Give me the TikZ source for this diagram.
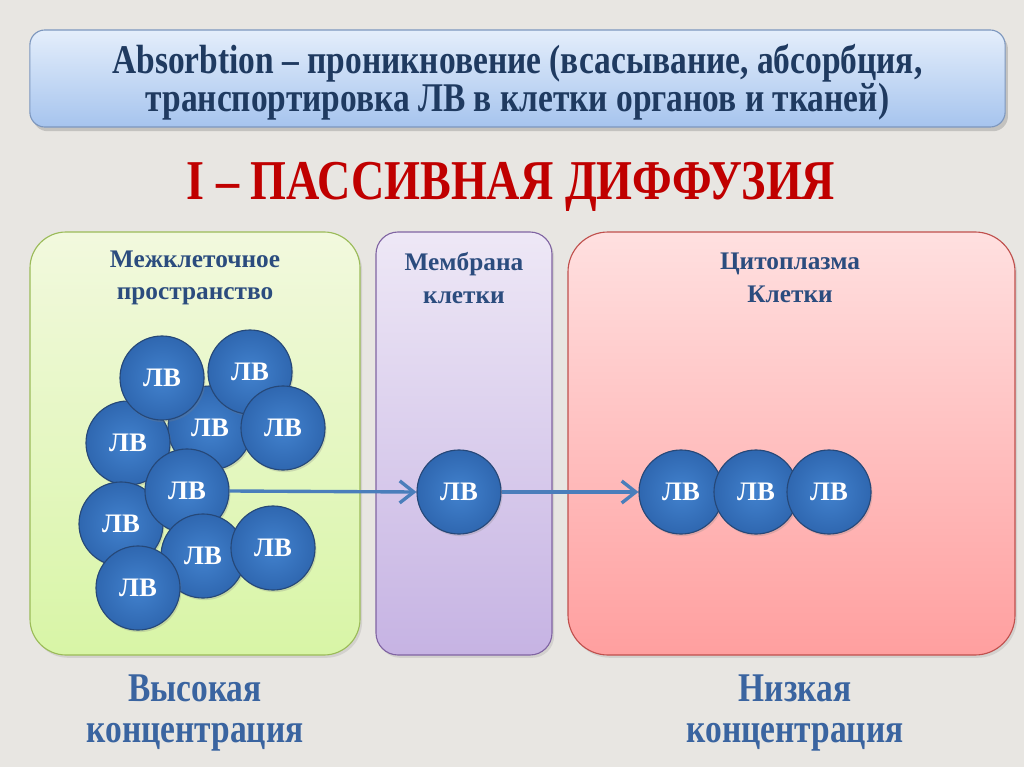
\documentclass[tikz,border=0pt]{standalone}
\usepackage{fontspec}
\setmainfont{Liberation Serif}
\newfontfamily\narrowfont[FakeStretch=0.82,Ligatures=TeX]{Liberation Serif}
\usetikzlibrary{arrows.meta,shadows}
\definecolor{paper}{HTML}{E8E6E2}
\definecolor{navy}{HTML}{1F3A60}
\definecolor{deepred}{HTML}{C00000}
\definecolor{headblue}{HTML}{2B4C7E}
\definecolor{lowblue}{HTML}{3A64A0}
\definecolor{bannertop}{HTML}{E4EEFB}
\definecolor{bannerbottom}{HTML}{A6C4EE}
\definecolor{banneredge}{HTML}{7D97BE}
\definecolor{greentop}{HTML}{F2F9DE}
\definecolor{greenbottom}{HTML}{D8F5A6}
\definecolor{greenedge}{HTML}{9BBB59}
\definecolor{violettop}{HTML}{EEE8F6}
\definecolor{violetbottom}{HTML}{C6B3E3}
\definecolor{violetedge}{HTML}{8064A2}
\definecolor{pinktop}{HTML}{FFE0E0}
\definecolor{pinkbottom}{HTML}{FF9F9F}
\definecolor{pinkedge}{HTML}{C0504D}
\definecolor{lvmid}{HTML}{4282CE}
\definecolor{lvrim}{HTML}{2F67B0}
\definecolor{lvedge}{HTML}{264878}
\definecolor{flowblue}{HTML}{4A7EBB}
\tikzset{
  banner/.style={
    draw=banneredge, line width=0.8pt,
    rounded corners=0.375cm,
    top color=bannertop, bottom color=bannerbottom,
    minimum width=24.375cm, minimum height=2.425cm,
    drop shadow={opacity=0.35, shadow xshift=2pt, shadow yshift=-3pt}
  },
  bannertext/.style={
    align=center, text=navy,
    font=\narrowfont\bfseries\fontsize{29}{27}\selectfont
  },
  panel/.style={
    line width=0.8pt,
    drop shadow={opacity=0.2, shadow xshift=1.5pt, shadow yshift=-2pt}
  },
  head/.style={
    text=headblue, align=center,
    font=\bfseries\fontsize{18}{23}\selectfont
  },
  conc/.style={
    text=lowblue, align=center,
    font=\narrowfont\bfseries\fontsize{29}{29}\selectfont
  },
  lv/.style={
    circle, draw=lvedge, line width=0.8pt,
    inner color=lvmid, outer color=lvrim,
    minimum size=2.1cm, inner sep=0pt,
    text=white, font=\bfseries\fontsize{19}{21}\selectfont,
    drop shadow={opacity=0.25, shadow xshift=1pt, shadow yshift=-1.5pt}
  },
  flow/.style={
    -{Straight Barb[length=3.5mm,width=5.5mm]},
    draw=flowblue,
    line width=2.4pt
  }
}

\begin{document}
\begin{tikzpicture}[x=0.025cm,y=-0.025cm]
  % Paper background
  \fill[paper] (0,0) rectangle (1024,767);
  \useasboundingbox (0,0) rectangle (1024,767);

  % Definition banner
  \node[banner] (banner) at (517.5,78.5) {};
  \node[bannertext] (definition) at (517.5,82)
    {Absorbtion -- проникновение (всасывание, абсорбция,\\
     транспортировка ЛВ в клетки органов и тканей)};

  % Heading
  \node[text=deepred, font=\narrowfont\bfseries\fontsize{40}{40}\selectfont]
    (title) at (511,187) {I -- ПАССИВНАЯ ДИФФУЗИЯ};

  % Three compartments
  \draw[panel, draw=greenedge, top color=greentop,
        bottom color=greenbottom, rounded corners=0.9cm]
    (30,232) rectangle (360,655);
  \draw[panel, draw=violetedge, top color=violettop,
        bottom color=violetbottom, rounded corners=0.55cm]
    (376,232) rectangle (552,655);
  \draw[panel, draw=pinkedge, top color=pinktop,
        bottom color=pinkbottom, rounded corners=1cm]
    (568,232) rectangle (1015,655);

  \node[head] (space) at (195,278) {Межклеточное\\пространство};
  \node[head] (membrane) at (464,278) {Мембрана\\клетки};
  \node[head] (cytoplasm) at (790,278) {Цитоплазма\\Клетки};

  % Crowded molecules outside
  \node[lv] (lv3) at (210,428) {ЛВ};
  \node[lv] (lv4) at (128,443) {ЛВ};
  \node[lv] (lv1) at (162,378) {ЛВ};
  \node[lv] (lv2) at (250,372) {ЛВ};
  \node[lv] (lv5) at (283,428) {ЛВ};
  \node[lv] (lv7) at (121,524) {ЛВ};
  \node[lv] (lv6) at (187,491) {ЛВ};
  \node[lv] (lv8) at (203,556) {ЛВ};
  \node[lv] (lv9) at (273,548) {ЛВ};
  \node[lv] (lv10) at (138,588) {ЛВ};

  % Through the membrane
  \node[lv] (lvm) at (459,492) {ЛВ};
  \draw[flow] (lv6.east) -- (lvm.west);

  % Inside the cell
  \node[lv] (lvc1) at (681,492) {ЛВ};
  \node[lv] (lvc2) at (756,492) {ЛВ};
  \node[lv] (lvc3) at (829,492) {ЛВ};
  \draw[flow] (lvm.east) -- (lvc1.west);

  % Concentration notes
  \node[conc] (high) at (195,713) {Высокая\\концентрация};
  \node[conc] (low) at (795,713) {Низкая\\концентрация};
\end{tikzpicture}
\end{document}
